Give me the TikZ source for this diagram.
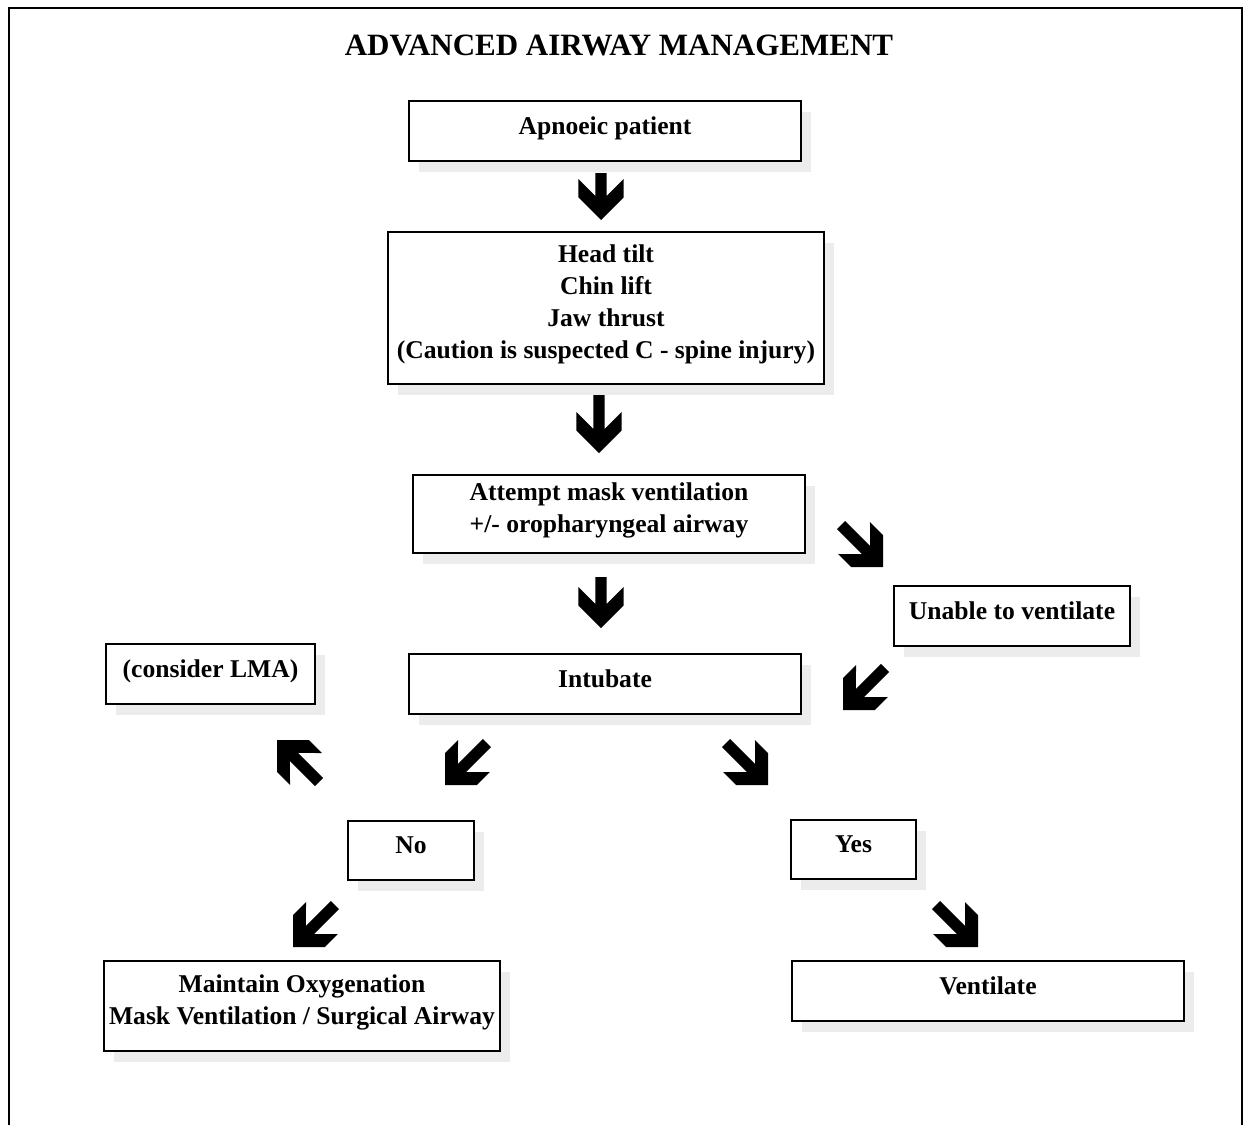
\documentclass[tikz,border=0pt]{standalone}
\usepackage{fontspec}
\setmainfont{Liberation Serif}
\usetikzlibrary{shadows}
\definecolor{shade}{HTML}{ECECEC}
\begin{document}
\begin{tikzpicture}[x=1pt,y=-1pt,
  box/.style={draw=black, line width=2.4pt, fill=white, align=center, inner sep=0pt,
    font=\bfseries\fontsize{25.6}{32}\selectfont,
    drop shadow={shadow xshift=10pt, shadow yshift=-11pt, fill=shade, opacity=1},
    execute at begin node={\rule{0pt}{18pt}},
    execute at end node={\rule[-12pt]{0pt}{0pt}}},
  pics/barrow/.style={code={\fill[black] (0,0) -- (-22.6,22.6) -- (-41,22.6) -- (-24,5.7) -- (-#1,5.7) -- (-#1,-5.7) -- (-24,-5.7) -- (-41,-22.6) -- (-22.6,-22.6) -- cycle;}},
  pics/barrow/.default=59.4,
]
\useasboundingbox (0,0) rectangle (1243,1125);
\draw[line width=2pt] (8.5,1125) -- (8.5,7.7) -- (1241.8,7.7) -- (1241.8,1125);

\node[font=\bfseries\fontsize{31}{34}\selectfont] (title) at (619,45) {ADVANCED AIRWAY MANAGEMENT};

\node[box, minimum width=392pt, minimum height=60pt] (apn) at (605,131) {Apnoeic patient};
\node[box, minimum width=436pt, minimum height=152pt] (head) at (606,308) {Head tilt\\Chin lift\\Jaw thrust\\(Caution is suspected C - spine injury)};
\node[box, minimum width=392pt, minimum height=78pt] (mask) at (609,514) {Attempt mask ventilation\\+/- oropharyngeal airway};
\node[box, minimum width=236pt, minimum height=60pt] (unable) at (1012,616) {Unable to ventilate};
\node[box, minimum width=392pt, minimum height=60pt] (intub) at (605,684) {Intubate};
\node[box, minimum width=209pt, minimum height=60pt] (lma) at (210.5,674) {(consider LMA)};
\node[box, minimum width=126pt, minimum height=59pt] (no) at (411,850.5) {No};
\node[box, minimum width=125pt, minimum height=59pt] (yes) at (853.5,849.5) {Yes};
\node[box, minimum width=396pt, minimum height=90pt] (maint) at (302,1006) {Maintain Oxygenation\\Mask Ventilation / Surgical Airway};
\node[box, minimum width=392pt, minimum height=60pt] (vent) at (988,991) {Ventilate};

% block arrows
\pic[rotate=-90] at (601,220) {barrow=47};
\pic[rotate=-90] at (599,453) {barrow=58};
\pic[rotate=-90] at (601,628) {barrow=51};
\pic[rotate=-45] at (883,567) {barrow};
\pic[rotate=-135] at (843,710) {barrow};
\pic[rotate=135] at (277,740) {barrow};
\pic[rotate=-135] at (445,785) {barrow};
\pic[rotate=-45] at (768,785) {barrow};
\pic[rotate=-135] at (293,947) {barrow};
\pic[rotate=-45] at (978,947) {barrow};
\end{tikzpicture}
\end{document}
